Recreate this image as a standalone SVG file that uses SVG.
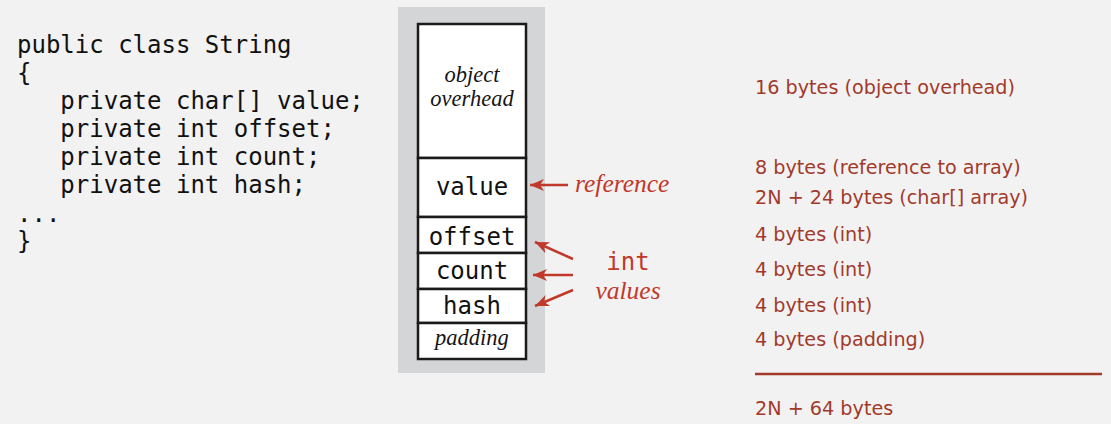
<svg xmlns="http://www.w3.org/2000/svg" width="1111" height="424" viewBox="0 0 1111 424">
<style>
.code{font-family:"DejaVu Sans Mono","Liberation Mono",monospace;font-size:24px;fill:#111111}
.mono{font-family:"DejaVu Sans Mono","Liberation Mono",monospace;font-size:24px;fill:#111111;text-anchor:middle}
.ital{font-family:"Liberation Serif",serif;font-style:italic;font-size:22.5px;fill:#151515;text-anchor:middle}
.redital{font-family:"Liberation Serif",serif;font-style:italic;font-size:25.5px;fill:#c0392b}
.redmono{font-family:"DejaVu Sans Mono","Liberation Mono",monospace;font-size:24px;fill:#c0392b;text-anchor:middle}
.lbl{font-family:"DejaVu Sans","Noto Sans",sans-serif;font-size:19.2px;fill:#a23a2b}
.box{fill:#ffffff;stroke:#1a1a1a;stroke-width:2.5}
.arr{stroke:#c0392b;stroke-width:2.5;fill:none;marker-end:url(#ah)}
</style>
<defs>
<marker id="ah" markerUnits="userSpaceOnUse" markerWidth="16" markerHeight="14" refX="14" refY="7" orient="auto" viewBox="0 0 16 14">
<path d="M14,7 L0,1 L4,7 L0,13 Z" fill="#c0392b"/>
</marker>
</defs>
<rect width="1111" height="424" fill="#f2f2f2"/>
<g id="code">
<text class="code" x="17" y="53">public class String</text>
<text class="code" x="17" y="81">{</text>
<text class="code" x="17" y="109" xml:space="preserve">   private char[] value;</text>
<text class="code" x="17" y="137" xml:space="preserve">   private int offset;</text>
<text class="code" x="17" y="165" xml:space="preserve">   private int count;</text>
<text class="code" x="17" y="193" xml:space="preserve">   private int hash;</text>
<text class="code" x="17" y="222">...</text>
<text class="code" x="17" y="249">}</text>
</g>
<rect id="panel" x="398" y="7" width="147" height="366" fill="#d4d5d7"/>
<g id="overhead">
<rect class="box" x="418" y="24" width="108" height="134"/>
<text class="ital" x="472" y="82">object</text>
<text class="ital" x="472" y="106">overhead</text>
</g>
<g id="value">
<rect class="box" x="418" y="158" width="108" height="59"/>
<text class="mono" x="472" y="195">value</text>
</g>
<g id="offset">
<rect class="box" x="418" y="217" width="108" height="36"/>
<text class="mono" x="472" y="245">offset</text>
</g>
<g id="count">
<rect class="box" x="418" y="253" width="108" height="36"/>
<text class="mono" x="472" y="279">count</text>
</g>
<g id="hash">
<rect class="box" x="418" y="289" width="108" height="34"/>
<text class="mono" x="472" y="314">hash</text>
</g>
<g id="padding">
<rect class="box" x="418" y="323" width="108" height="36"/>
<text class="ital" x="472" y="345">padding</text>
</g>
<g id="connectors">
<line class="arr" x1="568" y1="185" x2="530" y2="185"/>
<line class="arr" x1="573" y1="259" x2="535" y2="242"/>
<line class="arr" x1="573" y1="275" x2="533" y2="275"/>
<line class="arr" x1="573" y1="290" x2="535" y2="306"/>
</g>
<g id="annotations">
<text class="redital" x="575" y="192">reference</text>
<text class="redmono" x="628" y="270">int</text>
<text class="redital" x="628" y="299" text-anchor="middle">values</text>
</g>
<g id="sizes">
<text class="lbl" x="755" y="94">16 bytes (object overhead)</text>
<text class="lbl" x="755" y="174">8 bytes (reference to array)</text>
<text class="lbl" x="755" y="204">2N + 24 bytes (char[] array)</text>
<text class="lbl" x="755" y="241">4 bytes (int)</text>
<text class="lbl" x="755" y="276">4 bytes (int)</text>
<text class="lbl" x="755" y="312">4 bytes (int)</text>
<text class="lbl" x="755" y="346">4 bytes (padding)</text>
<line x1="755" y1="374" x2="1102" y2="374" stroke="#a23a2b" stroke-width="2.5"/>
<text class="lbl" x="755" y="415">2N + 64 bytes</text>
</g>
</svg>
